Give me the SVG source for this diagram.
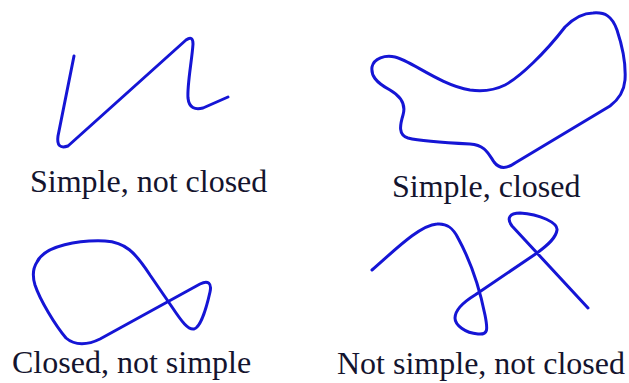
<svg xmlns="http://www.w3.org/2000/svg" width="629" height="383" viewBox="0 0 629 383">
<style>
.c{fill:none;stroke:#1515d5;stroke-width:3;stroke-linecap:round;stroke-linejoin:round}
.t{font-family:"Liberation Serif","Times New Roman",serif;font-size:32px;fill:#14142e}
</style>
<rect width="629" height="383" fill="#fff"/>
<g id="simple-not-closed">
<path class="c" d="M74,56 L58,136 Q56,150 68,146 L186,40 Q193,35 193,44 C192,60 187,85 188,98 C189,108 195,110 203,108 L228,97"/>
<text class="t" x="30" y="192">Simple, not closed</text>
</g>
<g id="simple-closed">
<path class="c" d="M593,13 C605,12 612,16 617,30 C622,45 626,65 625,80 C624,92 618,100 610,106 L515,163 C508,168 500,170 494,162 C488,153 485,145 470,144 C450,143 420,141 408,138 C398,135 400,125 403,115 C406,105 402,97 390,90 C375,82 371,75 372,67 C374,58 385,55 395,57 C410,60 440,85 470,90 C485,92 495,90 505,85 C520,77 545,53 565,27 C575,17 585,13 593,13 Z"/>
<text class="t" x="392" y="197">Simple, closed</text>
</g>
<g id="closed-not-simple">
<path class="c" d="M37,262 C45,245 80,240 105,241 C125,242 135,252 150,275 L172,307 C182,322 188,330 194,329 C200,328 206,310 210,292 C212,283 208,280 200,284 L100,339 C88,345 75,346 66,338 C55,325 40,300 35,285 C32,275 33,268 37,262 Z"/>
<text class="t" x="12" y="373">Closed, not simple</text>
</g>
<g id="not-simple-not-closed">
<path class="c" d="M372,270 C395,250 420,225 437,224 C447,223 453,228 458,238 C470,260 480,290 485,315 C488,330 488,335 478,334 C465,333 455,325 455,318 C455,310 462,303 475,295 L537,253 C548,245 556,238 557,230 C558,223 540,214 520,213 C510,213 506,218 512,226 L588,308"/>
<text class="t" x="337" y="374">Not simple, not closed</text>
</g>
</svg>
